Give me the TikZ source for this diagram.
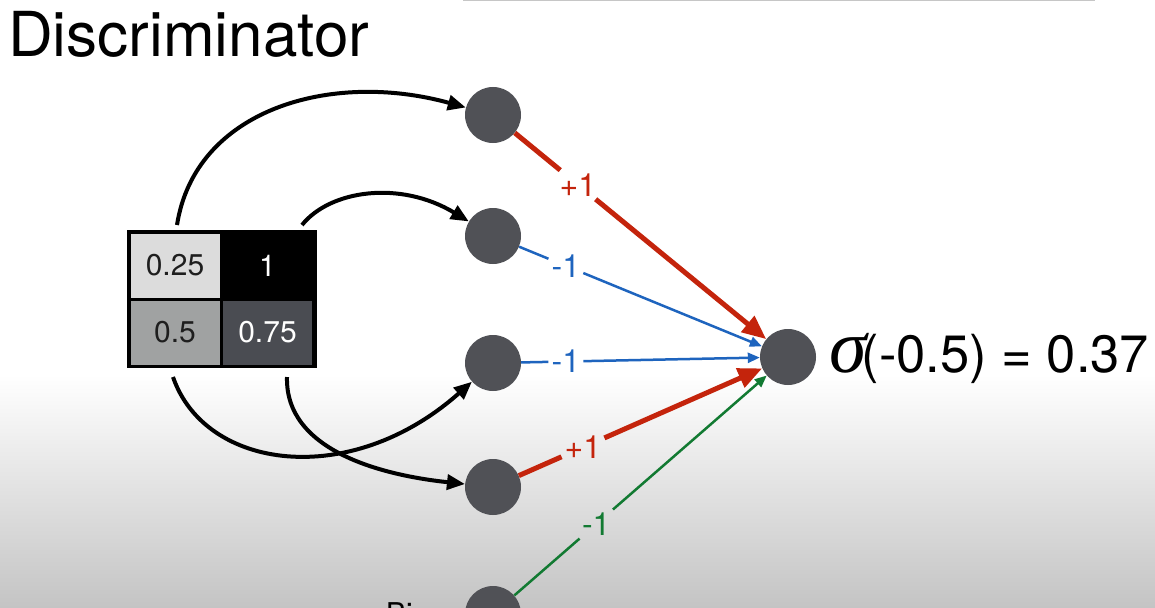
\documentclass[tikz,border=0pt]{standalone}
\usepackage{fontspec}
\setmainfont{TeX Gyre Heros}
\newfontfamily\sigfont{Liberation Serif}
\usetikzlibrary{arrows.meta,calc}
\definecolor{nodegray}{RGB}{80,81,86}
\definecolor{bggray}{RGB}{196,196,196}
\definecolor{wred}{RGB}{196,36,12}
\definecolor{wblue}{RGB}{30,100,190}
\definecolor{wgreen}{RGB}{18,122,50}
\definecolor{cellA}{RGB}{220,220,220}
\definecolor{cellB}{RGB}{160,162,162}
\definecolor{cellC}{RGB}{74,76,82}
\definecolor{celltext}{RGB}{30,30,30}
\tikzset{
  neuron/.style={circle,fill=nodegray,minimum size=56pt,inner sep=0pt},
  cell/.style={inner sep=0pt,minimum width=89pt,minimum height=64pt,font=\fontsize{30}{30}\selectfont},
  feed/.style={line width=4pt,-{Triangle[length=18pt,width=15pt]}},
  wlabel/.style={inner sep=3pt,font=\fontsize{32}{32}\selectfont},
  redw/.style={wred,line width=5pt},
  redtip/.style={redw,-{Triangle[length=24pt,width=20pt]}},
  bluew/.style={wblue,line width=2.5pt},
  bluetip/.style={bluew,-{Triangle[length=12pt,width=10pt]}},
  greenw/.style={wgreen,line width=2.5pt},
  greentip/.style={greenw,-{Triangle[length=12pt,width=10pt]}}
}
\begin{document}
\begin{tikzpicture}[x=1pt,y=-1pt]
\useasboundingbox (0,0) rectangle (1155,607);
\fill[white] (0,0) rectangle (1155,607);
\shade[top color=white,bottom color=bggray] (0,375) rectangle (1155,607);
\draw[gray!45,line width=2pt] (463,0) -- (1095,0);

% title
\node[anchor=base west,inner sep=0pt,font=\fontsize{62}{62}\selectfont] (title) at (8,57) {Discriminator};

% input matrix
\node[fill=black,inner sep=0pt,minimum width=190pt,minimum height=138pt] (m) at (222,299) {};
\node[cell,fill=cellA,text=celltext] (c11) at (175,265.5) {0.25};
\node[cell,fill=black,text=white] (c12) at (267.5,265.5) {1};
\node[cell,fill=cellB,text=celltext] (c21) at (175,332.5) {0.5};
\node[cell,fill=cellC,text=white] (c22) at (267.5,332.5) {0.75};

% neurons
\node[neuron] (h1) at (493,115) {};
\node[neuron] (h2) at (493,236) {};
\node[neuron] (h3) at (493,363) {};
\node[neuron] (h4) at (493,487) {};
\node[neuron] (h5) at (493,614) {};
\node[neuron] (o) at (788,357) {};

% bias text (cut off)
\node[anchor=base west,inner sep=0pt,font=\fontsize{30}{30}\selectfont] (bias) at (386,624) {Bi};

% output text
\node[anchor=base west,inner sep=0pt,font=\fontsize{52.5}{52.5}\selectfont] (res) at (829,372) {{\sigfont\itshape\fontsize{76}{76}\selectfont σ}\kern-5pt(-0.5) = 0.37};

% feed curves
\coordinate (s1) at (177,225);
\coordinate (s2) at (302,225);
\coordinate (s3) at (173,377);
\coordinate (s4) at (287,377);
\draw[feed] (s1) .. controls (195,110) and (330,70) .. (h1);
\draw[feed] (s2) .. controls (330,190) and (400,180) .. (h2);
\draw[feed] (s3) .. controls (205,470) and (350,490) .. (h3);
\draw[feed] (s4) .. controls (285,450) and (380,475) .. (h4);

% weight labels
\node[wlabel,text=wred] (l1) at ($(h1)!0.288!(o)$) {+1};
\node[wlabel,text=wblue] (l2) at ($(h2)!0.247!(o)$) {-1};
\node[wlabel,text=wblue] (l3) at ($(h3)!0.247!(o)$) {-1};
\node[wlabel,text=wred] (l4) at ($(h4)!0.305!(o)$) {+1};
\node[wlabel,text=wgreen] (l5) at ($(h5)!0.35!(o)$) {-1};

% weighted edges
\draw[redw] (h1) -- (l1);
\draw[redtip] (l1) -- (o);
\draw[bluew] (h2) -- (l2);
\draw[bluetip] (l2) -- (o);
\draw[bluew] (h3) -- (l3);
\draw[bluetip] (l3) -- (o);
\draw[redw] (h4) -- (l4);
\draw[redtip] (l4) -- (o);
\draw[greenw] (h5) -- (l5);
\draw[greentip] (l5) -- (o);
\end{tikzpicture}
\end{document}
